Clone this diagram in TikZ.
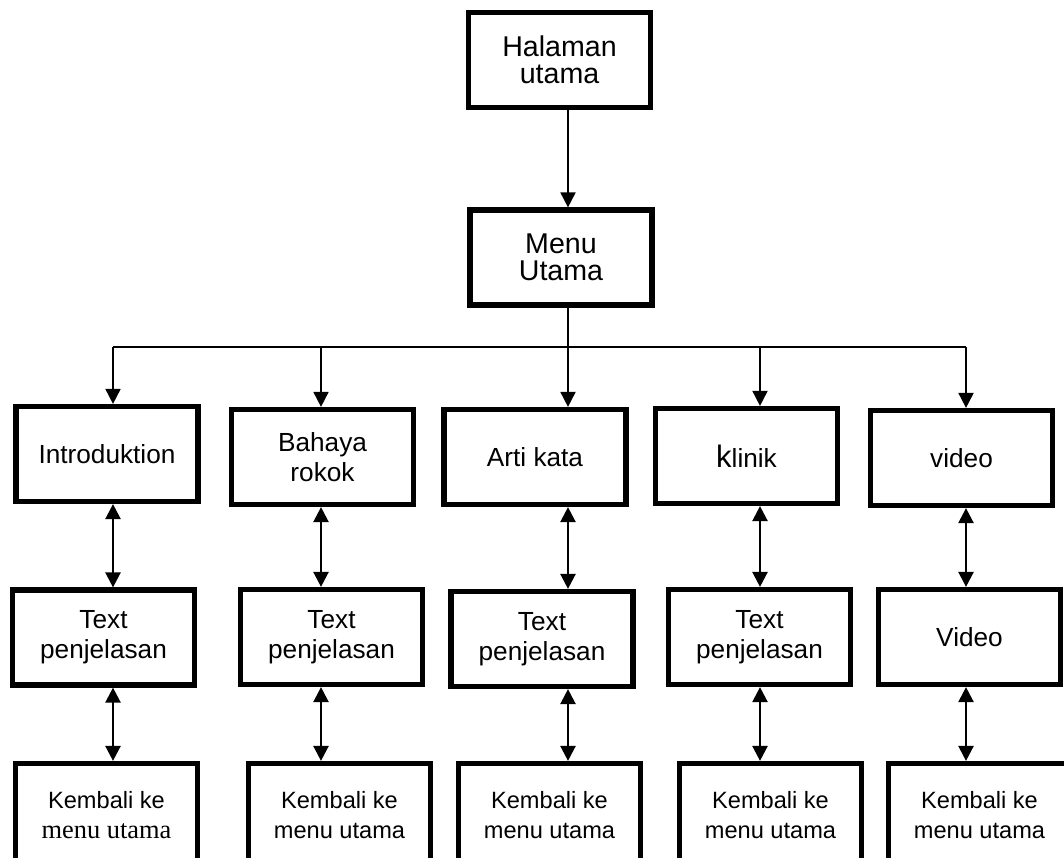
\documentclass[tikz,border=0pt]{standalone}
\usepackage{fontspec}
\setmainfont{Liberation Sans}
\newfontfamily\timesfont{Liberation Serif}
\usetikzlibrary{arrows.meta}

\begin{document}
\begin{tikzpicture}[x=0.5pt,y=-0.5pt,
  kotak/.style={draw, line width=2.6pt, align=center, inner sep=2pt,
    minimum width=91pt, minimum height=47.5pt, font=\fontsize{13.1}{15}\selectfont},
  atas/.style={kotak, font=\fontsize{14.3}{13.4}\selectfont},
  kembali/.style={kotak, minimum height=52pt, font=\fontsize{11.8}{15}\selectfont},
  >={Triangle[length=7.5pt,width=7.5pt]}]
\useasboundingbox (0,0) rectangle (1064,857);
\clip (0,0) rectangle (1064,857);

\node[atas] (halaman) at (559.5,60) {Halaman\\utama};
\node[atas] (menu) at (561,257.5) {Menu\\Utama};

\node[kotak] (a1) at (107,454) {Introduktion};
\node[kotak] (a2) at (322.5,457) {Bahaya\\rokok};
\node[kotak] (a3) at (535,457) {Arti kata};
\node[kotak] (a4) at (746.5,456) {{\fontsize{15.5}{15}\selectfont k}linik};
\node[kotak] (a5) at (961.5,458) {video};

\node[kotak] (b1) at (103.5,637.5) {Text\\penjelasan};
\node[kotak] (b2) at (331.5,637) {Text\\penjelasan};
\node[kotak] (b3) at (542,639) {Text\\penjelasan};
\node[kotak] (b4) at (759.5,637) {Text\\penjelasan};
\node[kotak] (b5) at (969.5,637) {Video};

\node[kembali] (c1) at (106.5,815.5) {Kembali ke\\{\fontsize{13.2}{15}\selectfont\timesfont menu utama}};
\node[kembali] (c2) at (339.5,815.5) {Kembali ke\\menu utama};
\node[kembali] (c3) at (549.5,815.5) {Kembali ke\\menu utama};
\node[kembali] (c4) at (770.5,815.5) {Kembali ke\\menu utama};
\node[kembali] (c5) at (979.5,815.5) {Kembali ke\\menu utama};

\foreach \n/\x in {1/113,2/321,3/568,4/760,5/966}
  \coordinate (k\n) at (\x,347);

\draw[->, line width=0.9pt] (halaman.south -| k3) -- (menu.north -| k3);
\draw[line width=0.9pt] (menu.south -| k3) -- (k3) (k1) -- (k5);
\foreach \n in {1,...,5}{
  \draw[->, line width=0.9pt] (k\n) -- (k\n |- a\n.north);
  \draw[<->, line width=1.2pt] (a\n.south -| k\n) -- (b\n.north -| k\n);
  \draw[<->, line width=1.2pt] (b\n.south -| k\n) -- (c\n.north -| k\n);
}
\end{tikzpicture}
\end{document}
